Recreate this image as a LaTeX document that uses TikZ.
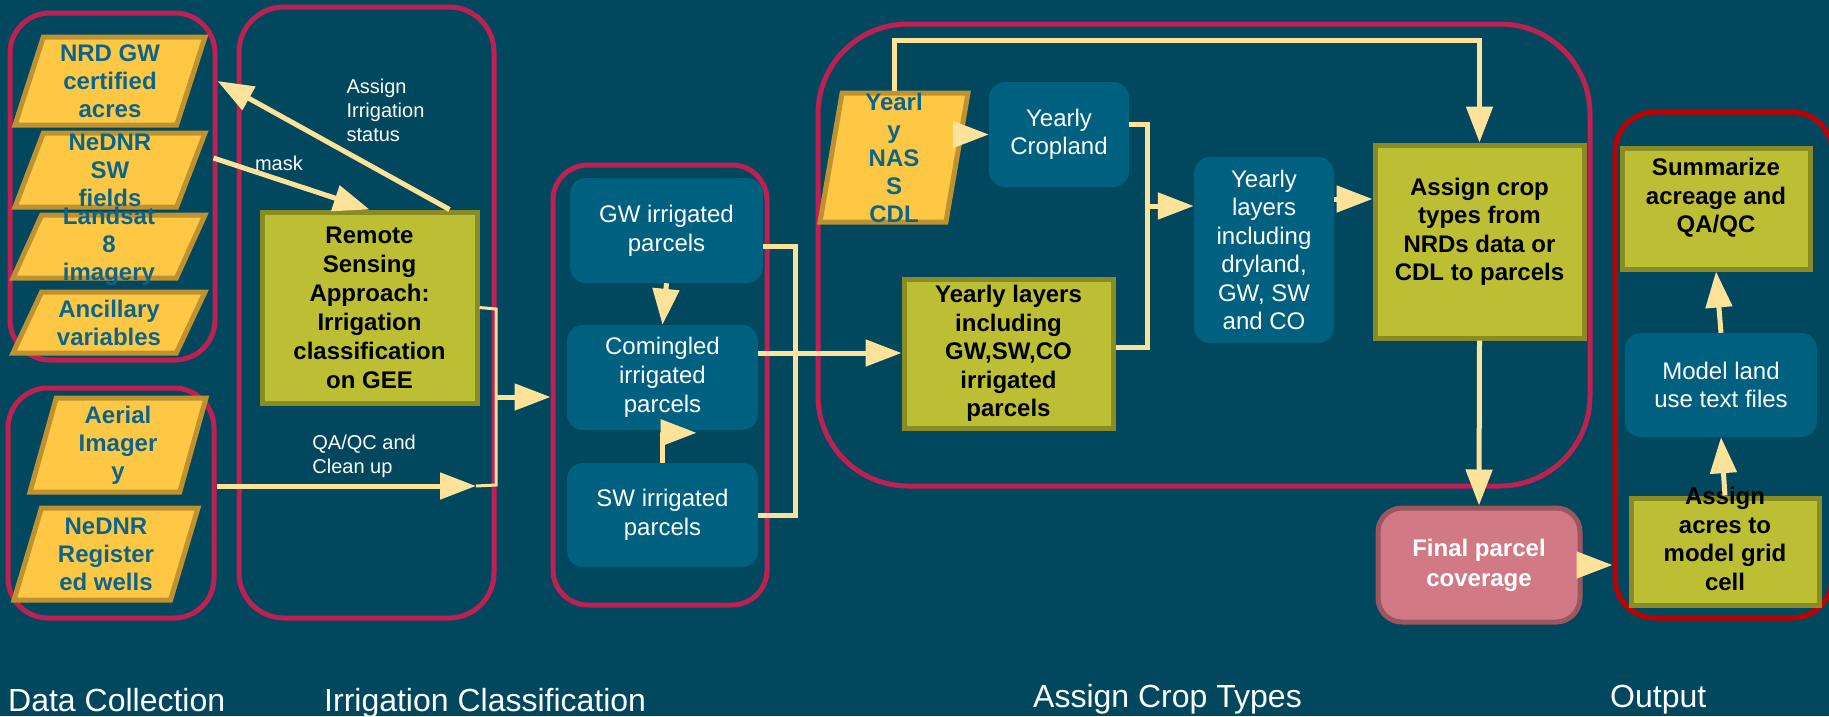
\documentclass[tikz,border=0pt]{standalone}
\usepackage{fontspec}
\setmainfont{Liberation Sans}
\usetikzlibrary{shapes,arrows.meta}

\definecolor{bg}{RGB}{1,72,94}
\definecolor{grpred}{RGB}{190,32,84}
\definecolor{outred}{RGB}{192,0,0}
\definecolor{parafill}{RGB}{255,200,68}
\definecolor{paraedge}{RGB}{190,146,48}
\definecolor{paratext}{RGB}{12,100,140}
\definecolor{bluebox}{RGB}{0,96,128}
\definecolor{greenfill}{RGB}{188,190,52}
\definecolor{greenedge}{RGB}{137,139,37}
\definecolor{pinkfill}{RGB}{209,122,133}
\definecolor{pinkedge}{RGB}{156,86,96}
\definecolor{arrowcol}{RGB}{255,226,153}

\tikzset{
  grp/.style={shape=rectangle, draw=grpred, line width=5pt, rounded corners=40pt},
  datain/.style={shape=trapezium, trapezium left angle=78, trapezium right angle=102, trapezium stretches=true, draw=paraedge, fill=parafill, line width=5pt, inner sep=2pt},
  datatxt/.style={text=paratext, font=\fontsize{24}{28}\selectfont\bfseries, align=center, inner sep=0pt},
  procbox/.style={shape=rectangle, draw=greenedge, fill=greenfill, line width=5pt, text=black, font=\fontsize{24}{28.5}\selectfont\bfseries, align=center, inner sep=2pt},
  proctxt/.style={text=black, font=\fontsize{24}{28.5}\selectfont\bfseries, align=center, inner sep=0pt},
  stepbox/.style={shape=rectangle, rounded corners=16pt, fill=bluebox, text=white, font=\fontsize{24}{29}\selectfont, align=center, inner sep=2pt},
  endbox/.style={shape=rectangle, rounded corners=24pt, draw=pinkedge, fill=pinkfill, line width=5pt, text=white, font=\fontsize{24}{30}\selectfont\bfseries, align=center},
  flow/.style={draw=arrowcol, line width=5pt, -{Triangle[length=36pt,width=26pt]}},
  flowline/.style={draw=arrowcol, line width=5pt},
  busline/.style={draw=arrowcol, line width=3pt},
  lbl/.style={text=white, font=\fontsize{20}{24}\selectfont, align=left},
  grouptitle/.style={text=white, font=\fontsize{32}{38}\selectfont, inner sep=0pt}
}

\begin{document}
\begin{tikzpicture}[x=1pt,y=-1pt]
\clip (0,0) rectangle (1829,716);
\fill [bg] (0,0) rectangle (1829,716);

% Group outlines
\node [grp, minimum width=205pt, minimum height=347pt] at (112.5,186.5) (dcTop) {};
\node [grp, minimum width=206pt, minimum height=230pt] at (111,503) (dcBot) {};
\node [grp, rounded corners=45pt, minimum width=255pt, minimum height=611pt] at (366.5,312.5) (irrGrp) {};
\node [grp, rounded corners=35pt, minimum width=214pt, minimum height=440pt] at (660,385) (parcelGrp) {};
\node [grp, rounded corners=90pt, minimum width=772pt, minimum height=462pt] at (1204,255) (cropGrp) {};
\node [grp, draw=outred, minimum width=217pt, minimum height=506pt] at (1723.5,365) (outGrp) {};

% Data collection
\node [datain, minimum width=190pt, minimum height=88pt] at (110,81) (nrd) {};
\node [datatxt] at (nrd) (nrdtxt) {NRD GW\\certified\\acres};
\node [datain, minimum width=190pt, minimum height=74pt] at (110,170) (swf) {};
\node [datatxt] at (swf) (swftxt) {NeDNR\\SW\\fields};
\node [datain, minimum width=192pt, minimum height=63pt] at (109,246.5) (landsat) {};
\node [datatxt] at (landsat) (landsattxt) {Landsat\\8\\imagery};
\node [datain, minimum width=192pt, minimum height=61pt] at (109,322.5) (ancil) {};
\node [datatxt] at (ancil) (anciltxt) {Ancillary\\variables};
\node [datain, minimum width=176pt, minimum height=94pt] at (118,445) (aerial) {};
\node [datatxt] at (aerial) (aerialtxt) {Aerial\\Imager\\y};
\node [datain, minimum width=184pt, minimum height=92pt] at (106,554) (wells) {};
\node [datatxt] at (wells) (wellstxt) {NeDNR\\Register\\ed wells};

% Irrigation classification
\node [procbox, font=\fontsize{24}{29}\selectfont\bfseries, minimum width=215pt, minimum height=191pt] at (369.5,307.5) (rs) {Remote\\Sensing\\Approach:\\Irrigation\\classification\\on GEE};
\coordinate (busTop) at (496,309);
\coordinate (busMid) at (496,397);
\coordinate (busBot) at (496,485);
\coordinate (qaEnd) at (476,486);

% Parcels
\node [stepbox, minimum width=193pt, minimum height=105pt] at (666.5,230.5) (gw) {GW irrigated\\parcels};
\node [stepbox, minimum width=191pt, minimum height=105pt] at (662.5,377.5) (comingled) {Comingled\\irrigated\\parcels};
\node [stepbox, minimum width=191pt, minimum height=104pt] at (662.5,515) (swp) {SW irrigated\\parcels};
\coordinate (pBus) at (795,353);

% Crop types
\node [datain, minimum width=148pt, minimum height=129pt] at (894,157.5) (cdl) {};
\node [datatxt] at (cdl) (cdltxt) {Yearl\\y\\NAS\\S\\CDL};
\node [stepbox, font=\fontsize{24}{28}\selectfont, minimum width=140pt, minimum height=105pt] at (1059,134.5) (cropland) {Yearly\\Cropland};
\node [procbox, minimum width=209pt, minimum height=149pt] at (1008.5,353.5) (yl) {Yearly layers\\including\\GW,SW,CO\\irrigated\\parcels};
\node [stepbox, font=\fontsize{24}{28.5}\selectfont, minimum width=140pt, minimum height=186pt] at (1264,250) (ydry) {Yearly\\layers\\including\\dryland,\\GW, SW\\and CO};
\node [procbox, minimum width=209pt, minimum height=193pt] at (1479.5,241.5) (assigncrop) {};
\node [proctxt] at (1479.5,232) (assigncroptxt) {Assign crop\\types from\\NRDs data or\\CDL to parcels};
\coordinate (cBus) at (1147,206);
\coordinate (dryOut) at ([shift={(0,-51)}]ydry.east);

% Output
\node [endbox, minimum width=202pt, minimum height=114pt] at (1479,565) (final) {Final parcel\\coverage};
\node [procbox, minimum width=188pt, minimum height=121pt] at (1716,208.5) (summ) {};
\node [proctxt] at (1716,198) (summtxt) {Summarize\\acreage and\\QA/QC};
\node [stepbox, font=\fontsize{24}{28}\selectfont, minimum width=192pt, minimum height=104pt] at (1721,385) (model) {Model land\\use text files};
\node [procbox, minimum width=188pt, minimum height=107pt] at (1725,551.5) (acres) {};
\node [proctxt] at (1725,539) (acrestxt) {Assign\\acres to\\model grid\\cell};

% Connectors
\draw [flow] ([shift={(20,-12)}]swf.east) -- (rs.north) node [lbl, pos=0.25, anchor=base west, inner sep=0pt] (masklbl) {mask};
\draw [flow] ([shift={(-30,0)}]rs.north east) -- (dcTop.east |- nrd.east) node [lbl, pos=0.43, anchor=west, xshift=-9pt, yshift=44pt] (assignlbl) {Assign\\Irrigation\\status};
\draw [flow] (dcBot.east |- qaEnd) -- (qaEnd) node [lbl, pos=0.36, anchor=south west, inner sep=0pt, yshift=6pt] (qalbl) {QA/QC and\\Clean up};
\draw [busline] (rs.east) -- (busTop) -- (busBot) -- (qaEnd);
\draw [flow] (busMid) -- (busMid -| parcelGrp.west);

\draw [flow] (gw.south) -- (comingled.north);
\draw [flow] (swp.north) -- ++(0,-30) -- ++(34,0);
\draw [flowline] ([shift={(0,16)}]gw.east) -| (pBus) |- (swp.east);
\draw [flow] (comingled.east |- pBus) -- (pBus -| yl.west);

\draw [flow] (cdl.east |- cropland.west) -- (cropland.west);
\draw [flow] (cdl.north) -- ++(0,-50) -| (assigncrop.north);
\draw [flowline] ([shift={(0,-10)}]cropland.east) -| (cBus) |- ([shift={(0,-6)}]yl.east);
\draw [flow] (cBus) -- (cBus -| ydry.west);
\draw [flow] (dryOut) -- (dryOut -| assigncrop.west);
\draw [flow] (assigncrop.south) -- (final.north);

\draw [flow] (final.east) -- (final.east -| outGrp.west);
\draw [flow] (acres.north) -- (model.south);
\draw [flow] (model.north) -- (summ.south);

% Group titles
\node [grouptitle, anchor=base west] at (8,711) (dcTitle) {Data Collection};
\node [grouptitle, anchor=base west] at (324,711) (irrTitle) {Irrigation Classification};
\node [grouptitle, anchor=base west] at (1033,707) (cropTitle) {Assign Crop Types};
\node [grouptitle, anchor=base west] at (1610,707) (outTitle) {Output};

\end{tikzpicture}
\end{document}
